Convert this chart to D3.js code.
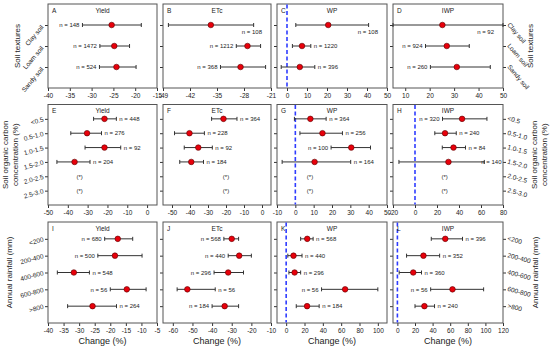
<!DOCTYPE html>
<html>
<head>
<meta charset="utf-8">
<script src="https://cdn.jsdelivr.net/npm/d3@7"></script>
<style>
  body { margin: 0; background: #fff; }
  svg { display: block; font-family: "Liberation Sans", Arial, sans-serif; }
</style>
</head>
<body>
<div id="chart"></div>
<script>
// Categories
const textures = ['Clay soil', 'Loam soil', 'Sandy soil'];
const carbon = ['<0.5', '0.5-1.0', '1.0-1.5', '1.5-2.0', '2.0-2.5', '2.5-3.0'];
const rainfall = ['<200', '200-400', '400-600', '600-800', '>800'];
const variables = ['Yield', 'ETc', 'WP', 'IWP'];
const letters = ['A', 'B', 'C', 'D', 'E', 'F', 'G', 'H', 'I', 'J', 'K', 'L'];

// Each row: [mean change, lower CI, upper CI, n]  (null = no data)
const rowsA = [[-25.4, -32.1, -18.6, 148], [-24.8, -28.1, -21.3, 1472], [-24.3, -28.2, -19.8, 524]];
const rowsB = [[-36.6, -47.6, -25.5, 108], [-27.1, -30, -23.7, 1212], [-28.9, -34.1, -22.4, 368]];
const rowsC = [[20.6, 4.4, 40.8, 108], [7.5, 2.7, 11.9, 1220], [6.4, -2.9, 13.9, 396]];
const rowsD = [[25.2, 5, 50, 92], [27, 18.3, 36.2, 924], [31.1, 20.3, 44.8, 260]];

const rowsE = [[-21.5, -27, -15.5, 448], [-30.3, -38.5, -23, 276], [-21.5, -31.3, -13.3, 92], [-36.6, -45.5, -28.8, 204], null, null];
const rowsF = [[-21.4, -28, -13.9, 364], [-40.3, -48.6, -32, 228], [-35.4, -43.2, -27.6, 92], [-39.3, -45.7, -32.5, 184], null, null];
const rowsG = [[8.2, -0.5, 16.8, 364], [14.8, 2.5, 25.7, 256], [30.5, 19.5, 41, 100], [10.5, -7.2, 30.2, 164], null, null];
const rowsH = [[42.8, 25, 65.4, 320], [27.3, 18, 37.5, 240], [35, 24.8, 45.9, 84], [30.4, -14.6, 63, 140], null, null];

const rowsI = [[-17.6, -21.8, -12.8, 680], [-18.5, -24, -9.8, 500], [-31.7, -37, -26.7, 548], [-14.7, -20, -8.5, 56], [-25.7, -33.7, -18, 264]];
const rowsJ = [[-30, -34, -26.5, 568], [-26.2, -31.8, -20, 440], [-31.8, -39, -24, 296], [-52.6, -57.8, -38.4, 56], [-33.6, -40, -26.5, 184]];
const rowsK = [[23, 15.8, 29.4, 568], [8, 1.8, 17.3, 440], [9.2, 3, 15.8, 296], [64.3, 38.6, 100, 56], [22.8, 11, 36, 184]];
const rowsL = [[54.4, 38.5, 74, 396], [29.6, 10.4, 48, 352], [18, 2, 27.4, 360], [62.6, 37.8, 98, 56], [30.7, 20, 42.2, 240]];

// Axis ranges and tick labels
const domains = [
  [-40, -15], [-49, -21], [-5, 50], [5, 50],
  [-50, 5], [-55, 5], [-10, 50], [-20, 80],
  [-40, -5], [-65, -10], [-10, 110], [-5, 120],
];
const tickSets = [
  [-40, -35, -30, -25, -20, -15], [-49, -42, -35, -28, -21], [0, 10, 20, 30, 40, 50], [10, 20, 30, 40, 50],
  [-50, -40, -30, -20, -10, 0], [-50, -40, -30, -20, -10, 0], [-10, 0, 10, 20, 30, 40, 50], [-20, 0, 20, 40, 60, 80],
  [-40, -35, -30, -25, -20, -15, -10, -5], [-60, -50, -40, -30, -20, -10], [0, 20, 40, 60, 80, 100], [0, 20, 40, 60, 80, 100, 120],
];

// Layout (pixels)
const colX = [[48, 157], [163, 271], [277, 387], [393, 503]];
const rowY = [[4, 88], [104.5, 205], [222, 323]];
const rowCats = [textures, carbon, rainfall];
const rowTitle = [['Soil textures'], ['Soil organic carbon', 'concentration (%)'], ['Annual rainfall (mm)']];
const labelAngle = [50, 15, 15];
const panelRows = [rowsA, rowsB, rowsC, rowsD, rowsE, rowsF, rowsG, rowsH, rowsI, rowsJ, rowsK, rowsL];
// where the "n = " label sits: l = left of bar, r = right of bar, b = below right end
const nSides = [
  ['l', 'l', 'l'], ['b', 'l', 'l'], ['b', 'r', 'r'], ['b', 'l', 'l'],
  ['r', 'r', 'r', 'r'], ['r', 'r', 'r', 'r'], ['r', 'r', 'l', 'r'], ['l', 'r', 'r', 'r'],
  ['l', 'l', 'r', 'l', 'r'], ['l', 'l', 'l', 'r', 'l'], ['r', 'r', 'r', 'l', 'r'], ['r', 'r', 'r', 'l', 'r'],
];
const starX = [-34, -20, 8, 27];
const zeroLine = [false, false, true, false, false, false, true, true, false, false, true, true];

const svg = d3.select('#chart').append('svg')
  .attr('width', 550)
  .attr('height', 351);

const ink = '#333';
const fs = 6.5;

for (let p = 0; p < 12; p++) {
  const r = Math.floor(p / 4);
  const c = p % 4;
  const [x0, x1] = colX[c];
  const [y0, y1] = rowY[r];
  const cats = rowCats[r];

  const x = d3.scaleLinear().domain(domains[p]).range([x0, x1]);
  const y = d3.scalePoint().domain(cats).range([y0, y1]).padding(1);

  const g = svg.append('g');

  // x axis
  const xa = g.append('g')
    .attr('transform', `translate(0,${y1})`)
    .call(d3.axisBottom(x).tickValues(tickSets[p]).tickFormat(d => String(d))
      .tickSize(3).tickPadding(2).tickSizeOuter(0));
  xa.select('.domain').remove();
  xa.selectAll('text').attr('font-size', fs).attr('fill', '#222').attr('font-family', null);
  xa.selectAll('line').attr('stroke', ink);

  // y ticks
  const ya = g.append('g')
    .attr('transform', `translate(${x0},0)`)
    .call(d3.axisLeft(y).tickSize(3).tickFormat(''));
  ya.select('.domain').remove();
  ya.selectAll('line').attr('stroke', ink);
  if (c === 3) {
    const yr = g.append('g')
      .attr('transform', `translate(${x1},0)`)
      .call(d3.axisRight(y).tickSize(3).tickFormat(''));
    yr.select('.domain').remove();
    yr.selectAll('line').attr('stroke', ink);
  }

  // frame
  g.append('rect')
    .attr('x', x0).attr('y', y0)
    .attr('width', x1 - x0).attr('height', y1 - y0)
    .attr('fill', 'none').attr('stroke', '#555').attr('stroke-width', 1);

  // zero line
  if (zeroLine[p]) {
    g.append('line')
      .attr('x1', x(0)).attr('x2', x(0))
      .attr('y1', y0 + 0.5).attr('y2', y1 - 0.5)
      .attr('stroke', '#2f3cff').attr('stroke-width', 1.6)
      .attr('stroke-dasharray', '4,2.5');
  }

  // letter and title
  g.append('text').attr('x', x0 + 4).attr('y', y0 + 8.5)
    .attr('font-size', fs).attr('fill', '#222').text(letters[p]);
  g.append('text').attr('x', (x0 + x1) / 2).attr('y', y0 + 8.5)
    .attr('text-anchor', 'middle').attr('font-size', fs).attr('fill', '#222')
    .text(variables[c]);

  // error bars
  const rows = panelRows[p];
  rows.forEach((d, i) => {
    const cy = y(cats[i]);
    if (!d) {
      g.append('text').attr('x', x(starX[c])).attr('y', cy + 2.5)
        .attr('text-anchor', 'middle').attr('font-size', 6).attr('fill', '#222')
        .text('(*)');
      return;
    }
    const [m, lo, hi, n] = d;
    g.append('line').attr('x1', x(lo)).attr('x2', x(hi)).attr('y1', cy).attr('y2', cy)
      .attr('stroke', ink).attr('stroke-width', 1);
    [lo, hi].forEach(v => {
      g.append('line').attr('x1', x(v)).attr('x2', x(v)).attr('y1', cy - 2).attr('y2', cy + 2)
        .attr('stroke', ink).attr('stroke-width', 1);
    });
    g.append('circle').attr('cx', x(m)).attr('cy', cy).attr('r', 2.8)
      .attr('fill', '#e8000b').attr('stroke', '#5a0000').attr('stroke-width', 0.6);

    const side = nSides[p][i];
    const t = g.append('text').attr('font-size', 6).attr('fill', '#222').text(`n = ${n}`);
    if (side === 'l') {
      t.attr('x', x(lo) - 3).attr('y', cy + 2.2).attr('text-anchor', 'end');
    } else if (side === 'r') {
      // keep the label inside the frame
      const w = t.node().getComputedTextLength();
      t.attr('x', Math.min(x(hi) + 3, x1 - 1.5 - w)).attr('y', cy + 2.2).attr('text-anchor', 'start');
    } else {
      t.attr('x', Math.min(x(hi) + 14, x1 - 9)).attr('y', cy + 9).attr('text-anchor', 'end');
    }
  });

  // category labels on outer columns
  if (c === 0 || c === 3) {
    const a = labelAngle[r];
    cats.forEach(cat => {
      const cy = y(cat);
      if (c === 0) {
        g.append('text')
          .attr('transform', `translate(${x0 - 4},${cy + 2.5}) rotate(${-a})`)
          .attr('text-anchor', 'end').attr('font-size', fs).attr('fill', '#222').text(cat);
      } else {
        g.append('text')
          .attr('transform', `translate(${x1 + 4},${cy + (r === 0 ? 0 : 1.5)}) rotate(${a})`)
          .attr('text-anchor', 'start').attr('font-size', fs).attr('fill', '#222').text(cat);
      }
    });
  }
}

// row titles both sides
const titleX = [[20, 533], [8, 537], [12, 538]];
rowTitle.forEach((lines, r) => {
  const cy = (rowY[r][0] + rowY[r][1]) / 2;
  titleX[r].forEach(tx => {
    lines.forEach((line, k) => {
      svg.append('text')
        .attr('transform', `translate(${tx + k * 9.5},${cy}) rotate(-90)`)
        .attr('text-anchor', 'middle').attr('font-size', 8).attr('fill', '#222')
        .text(line);
    });
  });
});

// bottom axis titles
colX.forEach(([x0, x1]) => {
  svg.append('text').attr('x', (x0 + x1) / 2).attr('y', 344)
    .attr('text-anchor', 'middle').attr('font-size', 9).attr('fill', '#222')
    .text('Change (%)');
});
</script>
</body>
</html>
